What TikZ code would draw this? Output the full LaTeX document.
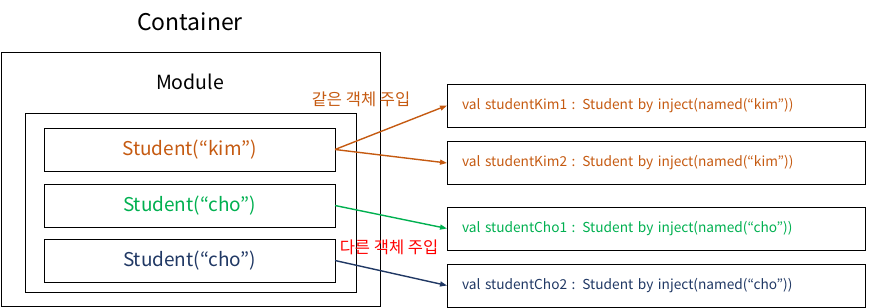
\documentclass[tikz,border=0pt]{standalone}
\usepackage{fontspec}
\setmainfont{Noto Sans CJK KR}
\usepackage{xcolor}
\usetikzlibrary{arrows.meta}
\definecolor{kimorange}{HTML}{C55A11}
\definecolor{chogreen}{HTML}{00B050}
\definecolor{chonavy}{HTML}{203864}
\definecolor{notered}{HTML}{FF0000}
\begin{document}
\begin{tikzpicture}[x=1pt,y=-1pt,every node/.style={outer sep=0pt, inner sep=0pt},
  box/.style={draw=black, line width=0.8pt},
  studentbox/.style={box, minimum width=291pt, minimum height=43pt, font=\fontsize{19}{19}\selectfont},
  injectbox/.style={box, inner xsep=15pt, text width=388pt, align=left, minimum height=43pt, font=\fontsize{13.7}{13.7}\selectfont},
  inject/.style={line width=1.4pt, -{Triangle[length=7pt,width=5pt]}}]
\useasboundingbox (0,0) rectangle (871,308);
% outer boxes
\node[box, anchor=north west, minimum width=379pt, minimum height=254pt] (container) at (1,52) {};
\node[font=\fontsize{23}{23}\selectfont] (containerlabel) at (190,22) {Container};
\node[box, anchor=north west, minimum width=331pt, minimum height=179pt] (module) at (25,113) {};
\node[font=\fontsize{19.5}{19.5}\selectfont] (modulelabel) at (190,82) {Module};
% beans
\node[studentbox, text=kimorange] (kim) at (189.5,149.5) {Student(“kim”)};
\node[studentbox, text=chogreen] (choA) at (189.5,205.5) {Student(“cho”)};
\node[studentbox, text=chonavy] (choB) at (189.5,260.5) {Student(“cho”)};
% injection targets
\node[injectbox, text=kimorange] (kimone) at (656,105.5) {val studentKim1 : Student by inject(named(“kim”))};
\node[injectbox, text=kimorange] (kimtwo) at (656,163) {val studentKim2 : Student by inject(named(“kim”))};
\node[injectbox, text=chogreen] (choone) at (656,228.5) {val studentCho1 : Student by inject(named(“cho”))};
\node[injectbox, text=chonavy] (chotwo) at (656,285.5) {val studentCho2 : Student by inject(named(“cho”))};
% arrows
\draw[inject, kimorange] (kim.east) -- (kimone.west);
\draw[inject, kimorange] (kim.east) -- (kimtwo.west);
\draw[inject, chogreen] (choA.east) -- (choone.west);
\draw[inject, chonavy] (choB.east) -- (chotwo.west);
% notes
\node[text=kimorange, font=\fontsize{16.5}{16.5}\selectfont] (samenote) at (361,99) {같은 객체 주입};
\node[text=notered, font=\fontsize{16.5}{16.5}\selectfont] (othernote) at (389,247) {다른 객체 주입};
\end{tikzpicture}
\end{document}
